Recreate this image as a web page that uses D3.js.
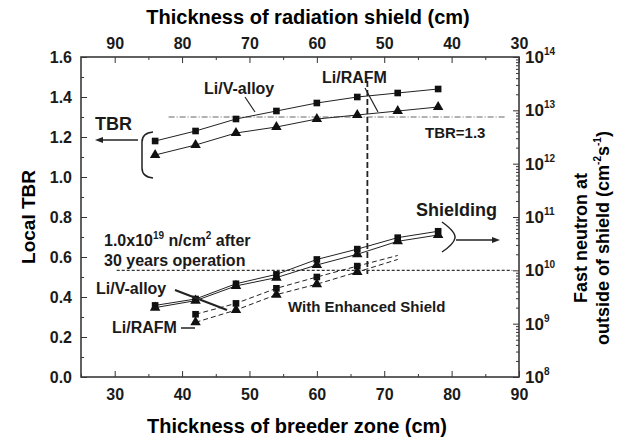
<!DOCTYPE html>
<html>
<head>
<meta charset="utf-8">
<script src="https://cdn.jsdelivr.net/npm/d3@7"></script>
<style>
  body { margin: 0; background: #fff; }
  svg { display: block; font-family: "Liberation Sans", Arial, sans-serif; font-weight: bold; }
  .tick text { font-size: 16px; fill: #1a1a1a; }
  .tick line { stroke: #333; }
  .domain { display: none; }
</style>
</head>
<body>
<div id="chart"></div>
<script>
// Breeder zone thickness (cm) of the calculated cases
const breederZone = [36, 42, 48, 54, 60, 66, 72, 78];
// Local TBR
const tbrVAlloy = [1.18, 1.23, 1.29, 1.33, 1.37, 1.40, 1.42, 1.44];
const tbrRafm = [1.11, 1.16, 1.22, 1.25, 1.29, 1.31, 1.33, 1.35];
// Fast neutron flux outside of shield (cm^-2 s^-1)
const fluxVAlloy = [2.2e9, 2.9e9, 5.6e9, 8.4e9, 1.6e10, 2.5e10, 4.1e10, 5.4e10];
const fluxRafm = [2.0e9, 2.7e9, 5.1e9, 7.3e9, 1.26e10, 2.0e10, 3.5e10, 4.6e10];
// With enhanced shield (last point drawn without marker)
const enhancedZone = [42, 48, 54, 60, 66, 72];
const enhancedVAlloy = [1.5e9, 2.4e9, 4.6e9, 7.5e9, 1.2e10, 1.9e10];
const enhancedRafm = [1.06e9, 1.8e9, 3.5e9, 5.5e9, 9.3e9, 1.6e10];

// Reference levels
const tbrTarget = 1.3;
const fluxLimit = 1e10;
const designZone = 67.5;

// Tick values
const bottomTicks = [30, 40, 50, 60, 70, 80, 90];
const topTicks = [90, 80, 70, 60, 50, 40, 30];
const leftTicks = [0, 0.2, 0.4, 0.6, 0.8, 1.0, 1.2, 1.4, 1.6];
const rightPowers = [8, 9, 10, 11, 12, 13, 14];

const width = 628;
const height = 441;
const m = { left: 81, right: 519, top: 57, bottom: 377 };

const svg = d3
  .select("#chart")
  .append("svg")
  .attr("width", width)
  .attr("height", height);

// Scales
const x = d3.scaleLinear().domain([25, 90]).range([m.left, m.right]);
const xTop = d3.scaleLinear().domain([95, 30]).range([m.left, m.right]);
const y = d3.scaleLinear().domain([0, 1.6]).range([m.bottom, m.top]);
const yR = d3.scaleLog().domain([1e8, 1e14]).range([m.bottom, m.top]);

// midpoints between major ticks
const minorOf = (vals) => {
  const out = [];
  for (let i = 0; i < vals.length - 1; i++) out.push((vals[i] + vals[i + 1]) / 2);
  return out;
};

// Bottom axis
svg.append("g")
  .attr("transform", `translate(0,${m.bottom})`)
  .call(d3.axisBottom(x).tickValues(bottomTicks).tickSize(-6).tickPadding(12));
svg.append("g")
  .attr("transform", `translate(0,${m.bottom})`)
  .call(d3.axisBottom(x).tickValues([25, 35, 45, 55, 65, 75, 85]).tickSize(-3).tickFormat(""));

// Top axis
svg.append("g")
  .attr("transform", `translate(0,${m.top})`)
  .call(d3.axisTop(xTop).tickValues(topTicks).tickSize(-6).tickPadding(8));
svg.append("g")
  .attr("transform", `translate(0,${m.top})`)
  .call(d3.axisTop(xTop).tickValues([85, 75, 65, 55, 45, 35]).tickSize(-3).tickFormat(""));

// Left axis
svg.append("g")
  .attr("transform", `translate(${m.left},0)`)
  .call(d3.axisLeft(y).tickValues(leftTicks).tickSize(-6).tickPadding(9).tickFormat(d3.format(".1f")));
svg.append("g")
  .attr("transform", `translate(${m.left},0)`)
  .call(d3.axisLeft(y).tickValues(minorOf(leftTicks)).tickSize(-3).tickFormat(""));

// Right axis (log)
const logMinor = [];
rightPowers.slice(0, -1).forEach((p) => {
  for (let k = 2; k <= 9; k++) logMinor.push(k * Math.pow(10, p));
});
svg.append("g")
  .attr("transform", `translate(${m.right},0)`)
  .call(d3.axisRight(yR).tickValues(rightPowers.map((p) => Math.pow(10, p))).tickSize(-6).tickFormat(""));
svg.append("g")
  .attr("transform", `translate(${m.right},0)`)
  .call(d3.axisRight(yR).tickValues(logMinor).tickSize(-3).tickFormat(""));

const rLabels = svg.append("g")
  .selectAll("text")
  .data(rightPowers)
  .join("text")
  .attr("x", m.right + 6)
  .attr("y", (p) => yR(Math.pow(10, p)) + 6)
  .attr("font-size", 17)
  .attr("fill", "#1a1a1a");
rLabels.append("tspan").text("10");
rLabels.append("tspan").attr("font-size", 10).attr("dy", -8).text((p) => p);

// Frame
svg.append("rect")
  .attr("x", m.left)
  .attr("y", m.top)
  .attr("width", m.right - m.left)
  .attr("height", m.bottom - m.top)
  .attr("fill", "none")
  .attr("stroke", "#3a3a3a")
  .attr("stroke-width", 1.6);

// Axis titles
svg.append("text")
  .attr("x", (m.left + m.right) / 2 + 8)
  .attr("y", 24)
  .attr("text-anchor", "middle")
  .attr("font-size", 20)
  .text("Thickness of radiation shield (cm)");

svg.append("text")
  .attr("x", (m.left + m.right) / 2 - 3)
  .attr("y", 433)
  .attr("text-anchor", "middle")
  .attr("font-size", 20)
  .text("Thickness of breeder zone (cm)");

svg.append("text")
  .attr("transform", `translate(35,${(m.top + m.bottom) / 2}) rotate(-90)`)
  .attr("text-anchor", "middle")
  .attr("font-size", 19)
  .text("Local TBR");

const rTitle = svg.append("text")
  .attr("transform", `translate(587,238) rotate(-90)`)
  .attr("text-anchor", "middle")
  .attr("font-size", 18);
rTitle.append("tspan").attr("x", 0).attr("y", 0).text("Fast neutron at");
const rt2 = rTitle.append("tspan").attr("x", 0).attr("y", 22);
rt2.append("tspan").text("outside of shield (cm");
rt2.append("tspan").attr("font-size", 10).attr("dy", -8).text("-2");
rt2.append("tspan").attr("dy", 8).text("s");
rt2.append("tspan").attr("font-size", 10).attr("dy", -8).text("-1");
rt2.append("tspan").attr("dy", 8).text(")");

// Reference lines
svg.append("line")
  .attr("x1", x(38)).attr("x2", x(88))
  .attr("y1", y(tbrTarget)).attr("y2", y(tbrTarget))
  .attr("stroke", "#666").attr("stroke-width", 1)
  .attr("stroke-dasharray", "6,2,1,2");

svg.append("line")
  .attr("x1", x(30.3)).attr("x2", x(89))
  .attr("y1", yR(fluxLimit)).attr("y2", yR(fluxLimit))
  .attr("stroke", "#333").attr("stroke-width", 1.2)
  .attr("stroke-dasharray", "3,2");

svg.append("line")
  .attr("x1", x(designZone)).attr("x2", x(designZone))
  .attr("y1", y(1.48)).attr("y2", yR(fluxLimit * 0.85))
  .attr("stroke", "#222").attr("stroke-width", 1.8)
  .attr("stroke-dasharray", "6,3");

// Series
const series = [
  { xs: breederZone, vs: tbrVAlloy, sc: y, sym: d3.symbolSquare, dash: null, marks: breederZone.length },
  { xs: breederZone, vs: tbrRafm, sc: y, sym: d3.symbolTriangle, dash: null, marks: breederZone.length },
  { xs: breederZone, vs: fluxVAlloy, sc: yR, sym: d3.symbolSquare, dash: null, marks: breederZone.length },
  { xs: breederZone, vs: fluxRafm, sc: yR, sym: d3.symbolTriangle, dash: null, marks: breederZone.length },
  { xs: enhancedZone, vs: enhancedVAlloy, sc: yR, sym: d3.symbolSquare, dash: "5,3", marks: enhancedZone.length - 1 },
  { xs: enhancedZone, vs: enhancedRafm, sc: yR, sym: d3.symbolTriangle, dash: "5,3", marks: enhancedZone.length - 1 },
];

series.forEach((s) => {
  const pts = s.xs.map((d, i) => [x(d), s.sc(s.vs[i])]);
  svg.append("path")
    .attr("d", d3.line()(pts))
    .attr("fill", "none")
    .attr("stroke", "#222")
    .attr("stroke-width", 1)
    .attr("stroke-dasharray", s.dash);
  svg.append("g")
    .selectAll("path")
    .data(pts.slice(0, s.marks))
    .join("path")
    .attr("transform", (p) => `translate(${p[0]},${p[1]})`)
    .attr("d", d3.symbol().type(s.sym).size(s.sym === d3.symbolSquare ? 44 : 48))
    .attr("fill", "#111");
});

// Annotations
const label = (tx, ty, txt, size) =>
  svg.append("text").attr("x", tx).attr("y", ty).attr("font-size", size).attr("fill", "#1a1a1a").text(txt);
const pointer = (x1, y1, x2, y2, w) =>
  svg.append("line").attr("x1", x1).attr("y1", y1).attr("x2", x2).attr("y2", y2)
    .attr("stroke", "#222").attr("stroke-width", w || 1.2);

label(204, 94, "Li/V-alloy", 16);
pointer(245, 97, 255, 112);
label(322, 83, "Li/RAFM", 16);
pointer(365, 88, 378, 112);
label(425, 138, "TBR=1.3", 15);

label(95, 130, "TBR", 18);
pointer(138, 140, 100, 140, 1.5);
svg.append("path").attr("d", "M95,140 l8,-3 l0,6 z").attr("fill", "#222");
svg.append("path")
  .attr("d", "M153,132 Q142,133 142,142 L142,168 Q142,177 153,178")
  .attr("fill", "none").attr("stroke", "#222").attr("stroke-width", 1.5);

label(416, 216, "Shielding", 18);
svg.append("path")
  .attr("d", "M442,222 Q456,232 455,238 Q454,244 442,252")
  .attr("fill", "none").attr("stroke", "#222").attr("stroke-width", 1.5);
pointer(456, 240, 494, 240, 1.5);
svg.append("path").attr("d", "M500,240 l-8,-3 l0,6 z").attr("fill", "#222");

const fl = svg.append("text").attr("x", 104).attr("y", 246).attr("font-size", 16).attr("fill", "#1a1a1a");
fl.append("tspan").text("1.0x10");
fl.append("tspan").attr("font-size", 10).attr("dy", -7).text("19");
fl.append("tspan").attr("dy", 7).text(" n/cm");
fl.append("tspan").attr("font-size", 10).attr("dy", -7).text("2");
fl.append("tspan").attr("dy", 7).text(" after");
label(104, 266, "30 years operation", 16);

label(96, 294, "Li/V-alloy", 16);
pointer(175, 290, 227, 310, 2);
label(112, 333, "Li/RAFM", 16);
pointer(181, 328, 195, 328, 1.5);
label(288, 312, "With Enhanced Shield", 15);
</script>
</body>
</html>
